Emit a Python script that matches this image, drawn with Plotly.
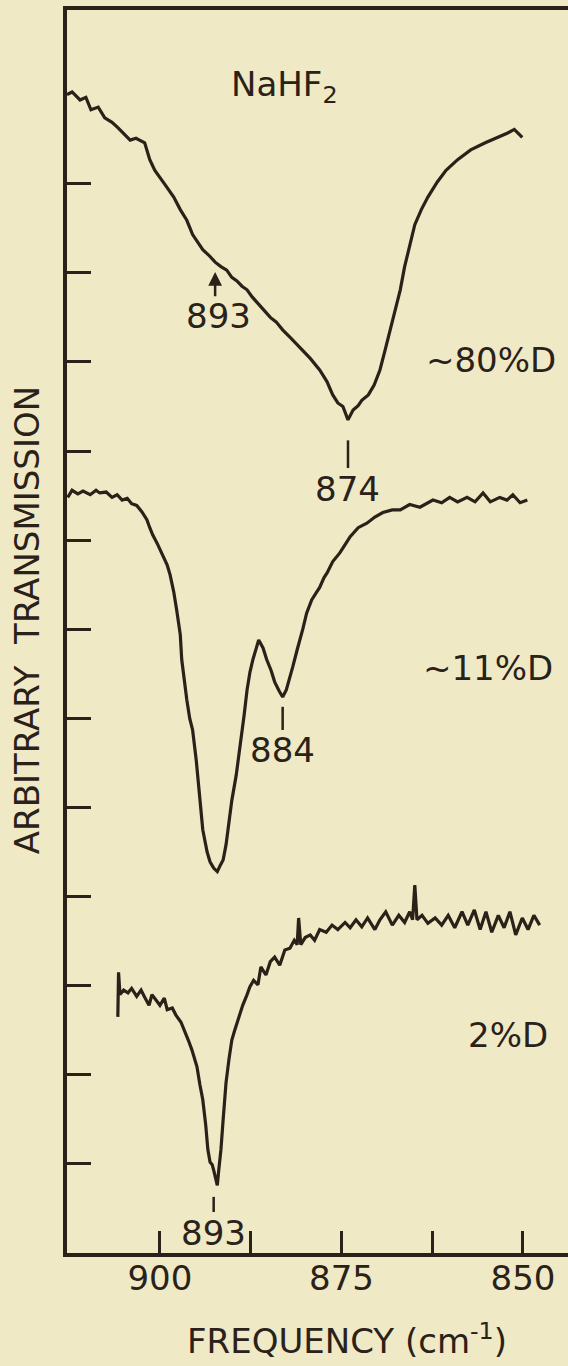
import plotly.graph_objects as go

# ---- data (frequency in cm^-1, transmission in arbitrary units = tick spacing) ----
freq_80 = [912.8, 912.1, 911.0, 910.2, 909.5, 908.5, 907.6, 906.6, 905.8, 905.1, 904.1, 903.3,
           902.1, 901.4, 900.7, 899.3, 898.1, 897.2, 896.3, 895.5, 894.8, 894.1, 893.3, 892.4,
           891.6, 890.8, 890.1, 889.4, 888.7, 888.0, 887.3, 886.5, 885.7, 884.8, 884.0, 883.1,
           882.0, 880.7, 879.3, 878.0, 877.0, 876.2, 875.5, 874.8, 874.1, 873.4, 872.7, 872.2,
           871.3, 870.5, 869.7, 869.0, 868.3, 867.6, 866.9, 866.3, 865.6, 864.9, 864.0, 863.1,
           861.8, 860.6, 859.0, 857.2, 855.2, 853.2, 852.1, 851.2, 850.1]
trans_80 = [13.00, 13.03, 12.94, 12.97, 12.83, 12.86, 12.74, 12.69, 12.63, 12.57, 12.49, 12.51,
            12.46, 12.27, 12.15, 11.99, 11.85, 11.71, 11.59, 11.43, 11.34, 11.26, 11.20, 11.12,
            11.07, 11.03, 10.95, 10.91, 10.85, 10.81, 10.73, 10.66, 10.58, 10.50, 10.45, 10.36,
            10.27, 10.16, 10.04, 9.91, 9.78, 9.63, 9.54, 9.50, 9.35, 9.46, 9.51, 9.57,
            9.63, 9.74, 9.91, 10.13, 10.36, 10.58, 10.81, 11.07, 11.31, 11.54, 11.71, 11.85,
            12.02, 12.15, 12.27, 12.38, 12.46, 12.53, 12.57, 12.61, 12.52]

freq_11 = [912.7, 912.1, 911.3, 910.6, 909.6, 908.8, 908.3, 907.4, 906.6, 905.9, 905.2, 904.5,
           903.9, 903.2, 902.5, 901.8, 901.4, 901.0, 900.3, 899.6, 899.0, 898.6, 898.1, 897.7,
           897.2, 897.0, 896.6, 896.3, 895.9, 895.5, 895.0, 894.6, 894.1, 893.5, 893.1, 892.6,
           892.1, 891.7, 891.3, 890.9, 890.5, 890.1, 889.5, 889.0, 888.4, 888.0, 887.6, 887.2,
           886.8, 886.4, 885.8, 885.3, 884.7, 884.2, 883.6, 883.1, 882.6, 882.1, 881.7, 881.1,
           880.7, 880.3, 879.8, 879.1, 878.4, 878.0, 877.4, 877.0, 876.2, 875.2, 874.5, 873.8,
           872.7, 871.5, 870.4, 869.3, 868.0, 866.9, 865.6, 864.2, 862.4, 861.2, 860.1, 859.0,
           857.7, 856.6, 855.5, 854.5, 853.2, 852.2, 851.4, 850.4, 849.4]
trans_11 = [8.48, 8.56, 8.52, 8.55, 8.51, 8.56, 8.53, 8.54, 8.48, 8.51, 8.45, 8.47,
            8.41, 8.39, 8.32, 8.23, 8.14, 8.06, 7.95, 7.83, 7.72, 7.61, 7.42, 7.22,
            6.94, 6.66, 6.37, 6.21, 6.00, 5.87, 5.53, 5.14, 4.75, 4.50, 4.39, 4.32,
            4.28, 4.35, 4.41, 4.58, 4.86, 5.08, 5.36, 5.65, 6.04, 6.32, 6.52, 6.66,
            6.77, 6.88, 6.79, 6.66, 6.54, 6.41, 6.31, 6.24, 6.32, 6.45, 6.58, 6.77,
            6.88, 7.01, 7.18, 7.33, 7.42, 7.47, 7.58, 7.63, 7.76, 7.86, 7.95, 8.04,
            8.14, 8.19, 8.26, 8.31, 8.34, 8.34, 8.40, 8.37, 8.45, 8.42, 8.48, 8.43,
            8.48, 8.43, 8.53, 8.43, 8.48, 8.45, 8.51, 8.42, 8.45]

freq_2 = [905.8, 905.7, 905.5, 905.0, 904.4, 903.9, 903.2, 902.6, 902.1, 901.5, 901.1, 900.6,
          900.0, 899.4, 899.0, 898.3, 897.8, 897.1, 896.6, 896.1, 895.6, 894.9, 894.5, 894.1,
          893.7, 893.4, 893.1, 892.8, 892.6, 892.3, 892.1, 891.9, 891.6, 891.3, 890.9, 890.5,
          890.1, 889.7, 889.1, 888.6, 888.0, 887.6, 887.1, 886.5, 886.1, 885.4, 884.8, 884.2,
          883.5, 882.8, 882.1, 881.5, 881.1, 880.9, 880.6, 880.0, 879.3, 878.7, 878.0, 877.1,
          876.3, 875.5, 874.5, 873.8, 873.0, 872.2, 871.4, 870.4, 869.7, 868.9, 868.0, 867.1,
          866.3, 865.6, 865.2, 864.9, 864.6, 863.9, 863.1, 862.1, 861.2, 860.3, 859.4, 858.4,
          857.6, 856.7, 855.9, 855.1, 854.3, 853.4, 852.6, 851.8, 851.0, 850.1, 849.3, 848.5,
          847.7]
trans_2 = [2.65, 3.15, 2.90, 2.95, 2.92, 2.97, 2.88, 2.95, 2.87, 2.78, 2.90, 2.84,
           2.78, 2.86, 2.73, 2.75, 2.67, 2.59, 2.50, 2.39, 2.28, 2.09, 1.89, 1.72,
           1.44, 1.16, 1.02, 0.99, 0.93, 0.82, 0.76, 0.93, 1.16, 1.49, 1.91, 2.17,
           2.39, 2.50, 2.65, 2.78, 2.90, 2.99, 3.06, 3.01, 3.21, 3.12, 3.27, 3.32,
           3.23, 3.40, 3.42, 3.51, 3.46, 3.76, 3.46, 3.54, 3.57, 3.51, 3.63, 3.60,
           3.68, 3.63, 3.71, 3.65, 3.74, 3.66, 3.76, 3.63, 3.74, 3.83, 3.68, 3.79,
           3.71, 3.83, 3.74, 4.13, 3.74, 3.79, 3.70, 3.76, 3.68, 3.79, 3.65, 3.83,
           3.68, 3.85, 3.63, 3.83, 3.60, 3.79, 3.65, 3.83, 3.57, 3.76, 3.63, 3.79,
           3.68]

x_tickvals = [900, 887.5, 875, 862.5, 850]
x_ticktext = ["900", "", "875", "", "850"]
y_tickvals = [1, 2, 3, 4, 5, 6, 7, 8, 9, 10, 11, 12]

INK = "#2a2119"
BG = "#efe9c6"
FONT = "DejaVu Sans"
FS = 34

fig = go.Figure()
for fx, ty in [(freq_80, trans_80), (freq_11, trans_11), (freq_2, trans_2)]:
    fig.add_trace(go.Scatter(x=fx, y=ty, mode="lines",
                             line=dict(color=INK, width=3.2), showlegend=False,
                             hoverinfo="skip"))

ann = []
def txt(x, y, t):
    ann.append(dict(x=x, y=y, xref="x", yref="y", text=t, showarrow=False,
                    font=dict(family=FONT, size=FS, color=INK),
                    xanchor="center", yanchor="middle"))

txt(882.8, 13.09, "NaHF<sub>2</sub>")
txt(854.4, 10.02, "~80%D")
txt(892.0, 10.52, "893")
txt(874.2, 8.57, "874")
txt(883.1, 5.65, "884")
txt(854.8, 6.57, "~11%D")
txt(852.1, 2.45, "2%D")
txt(892.6, 0.22, "893")

# arrow to the 893 shoulder
ann.append(dict(x=892.4, y=11.01, ax=892.4, ay=10.72, xref="x", yref="y",
                axref="x", ayref="y", text="", showarrow=True, arrowhead=2,
                arrowsize=1.1, arrowwidth=2.5, arrowcolor=INK))

# axis titles
ann.append(dict(x=0.559, y=-0.0885, xref="paper", yref="paper",
                text="FREQUENCY (cm<sup>-1</sup>)", showarrow=False,
                font=dict(family=FONT, size=FS, color=INK),
                xanchor="center", yanchor="bottom"))
ann.append(dict(x=-0.08, y=0.509, xref="paper", yref="paper",
                text="ARBITRARY\u00a0 TRANSMISSION", showarrow=False, textangle=-90,
                font=dict(family=FONT, size=FS, color=INK),
                xanchor="center", yanchor="middle"))

shapes = []
for (xx, y0, y1) in [(874.1, 9.12, 8.81), (883.1, 6.13, 5.87), (892.6, 0.63, 0.46)]:
    shapes.append(dict(type="line", xref="x", yref="y", x0=xx, x1=xx, y0=y0, y1=y1,
                       line=dict(color=INK, width=2.5)))

fig.update_layout(
    width=568, height=1366,
    margin=dict(l=67, r=0, t=10, b=113),
    paper_bgcolor=BG, plot_bgcolor=BG,
    annotations=ann, shapes=shapes,
    xaxis=dict(range=[912.8, 843.8], showgrid=False, zeroline=False,
               showline=True, linewidth=3.5, linecolor=INK, mirror=True,
               ticks="inside", ticklen=22, tickwidth=2.5, tickcolor=INK,
               tickvals=x_tickvals, ticktext=x_ticktext, ticklabelstandoff=-8,
               tickfont=dict(family=FONT, size=FS, color=INK)),
    yaxis=dict(range=[0, 13.95], showgrid=False, zeroline=False,
               showline=True, linewidth=3.5, linecolor=INK,
               ticks="inside", ticklen=24, tickwidth=2.5, tickcolor=INK,
               tickvals=y_tickvals, showticklabels=False),
)

fig.write_html("out.html")
